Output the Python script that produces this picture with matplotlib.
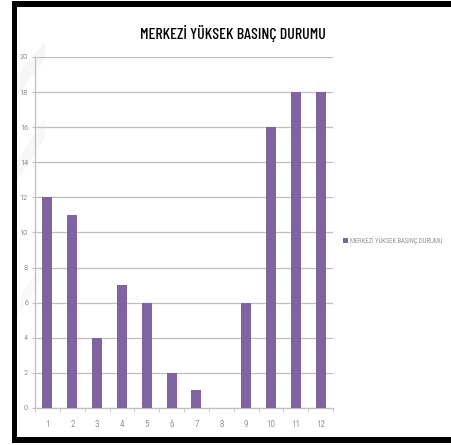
import matplotlib
matplotlib.use("Agg")
import matplotlib.pyplot as plt
from matplotlib.patches import Polygon, Rectangle

categories = [1, 2, 3, 4, 5, 6, 7, 8, 9, 10, 11, 12]
values = [12, 11, 4, 7, 6, 2, 1, 0, 6, 16, 18, 18]
y_ticks = [0, 2, 4, 6, 8, 10, 12, 14, 16, 18, 20]
title = "MERKEZİ YÜKSEK BASINÇ DURUMU"
series_name = "MERKEZİ YÜKSEK BASINÇ DURUMU"

W, H = 451, 445
fig = plt.figure(figsize=(W / 100, H / 100), dpi=100)
fig.patch.set_facecolor("white")

narrow = ["Roboto Condensed", "DejaVu Sans"]
title_font = ["Barlow Condensed", "Roboto Condensed", "DejaVu Sans"]
bar_color = "#8064A2"
grid_color = "#BFBFBF"
text_color = "#595959"

# background layer in pixel coordinates
bg = fig.add_axes([0, 0, 1, 1], zorder=0)
bg.set_xlim(0, W)
bg.set_ylim(H, 0)
bg.axis("off")

# faint diagonal shapes at the left edge
for pts, col in [
    ([(17, 75), (45, 42), (45, 60), (17, 95)], "#F6F6F6"),
    ([(17, 160), (45, 118), (45, 138), (17, 182)], "#F7F7F7"),
    ([(17, 300), (40, 265), (40, 280), (17, 318)], "#F9F9F9"),
]:
    bg.add_patch(Polygon(pts, closed=True, facecolor=col, edgecolor="none"))

# black frame (top, left, bottom)
bg.add_patch(Rectangle((12, 1), W - 12, 6, facecolor="black", edgecolor="none"))
bg.add_patch(Rectangle((12, 1), 5, 442, facecolor="black", edgecolor="none"))
bg.add_patch(Rectangle((12, 437), W - 12, 6, facecolor="black", edgecolor="none"))

x0, x1 = 35, 333
y_top, y_bot = 57, 408
ax = fig.add_axes([x0 / W, (H - y_bot) / H, (x1 - x0) / W, (y_bot - y_top) / H],
                  zorder=2)
ax.set_facecolor("none")

ax.bar(categories, values, width=0.4, color=bar_color, zorder=3)
ax.set_xlim(0.5, 12.5)
ax.set_ylim(0, 20)
ax.set_yticks(y_ticks)
ax.set_xticks(categories)
ax.set_xticks([c + 0.5 for c in [0] + categories], minor=True)
ax.yaxis.grid(True, color=grid_color, linewidth=0.9, zorder=0)
for s in ["top", "right"]:
    ax.spines[s].set_visible(False)
for s in ["left", "bottom"]:
    ax.spines[s].set_color(grid_color)
    ax.spines[s].set_linewidth(0.9)
ax.tick_params(axis="y", length=2.5, color=grid_color, labelsize=6,
               labelcolor=text_color, pad=2.5)
ax.tick_params(axis="x", which="major", length=0, labelsize=6.5,
               labelcolor=text_color, pad=8.5)
ax.tick_params(axis="x", which="minor", length=3, color=grid_color)
for lab in ax.get_xticklabels() + ax.get_yticklabels():
    lab.set_fontfamily(narrow)
    lab.set_fontweight("light")

fig.text(233 / W, 1 - 33 / H, title, ha="center", va="center",
         fontsize=11.5, fontfamily=title_font, fontweight="medium", color="black")

# legend entry
bg.add_patch(Rectangle((343, 238), 5, 5, facecolor=bar_color, edgecolor="none"))
bg.text(350, 240.5, series_name, ha="left", va="center", fontsize=4.8,
        fontfamily=narrow, fontweight="light", color=text_color)

fig.savefig("out.png", dpi=100)
